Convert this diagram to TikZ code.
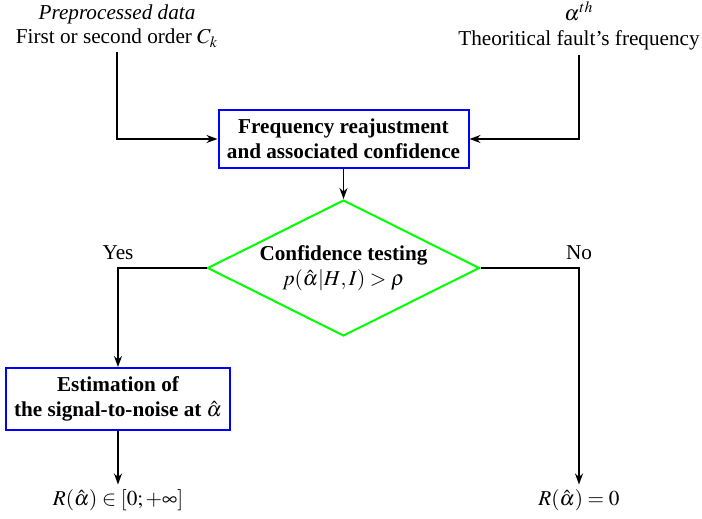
\documentclass[tikz,border=0pt]{standalone}
\usepackage{amsmath, amssymb}
\usepackage{mathptmx}
\usepackage[no-math]{fontspec}
\setmainfont{Liberation Serif}
\usepackage{tikz}
\usetikzlibrary{shapes.geometric, arrows.meta}

\begin{document}
\fontsize{10.6}{12.4}\selectfont
\begin{tikzpicture}[
    x=0.5pt, y=-0.5pt, >={Stealth[length=5.5pt, width=4pt]}, line width=0.9pt,
    proc/.style={rectangle, draw=blue, line width=1pt, align=center, font=\bfseries, inner sep=3pt},
    test/.style={diamond, draw=green, line width=1pt, align=center, inner sep=0pt, shape aspect=2},
    io/.style={align=center, inner sep=2pt}
]
    \useasboundingbox (0,0) rectangle (702,519);

    % inputs
    \node[io] (inData) at (117, 26) {\textit{Preprocessed data}\\First or second order $C_k$};
    \node[io] (inFreq) at (579, 26) {$\alpha^{th}$\\Theoritical fault's frequency};

    % steps
    \node[proc, minimum width=125pt, minimum height=29pt] (freq) at (343.5, 139) {Frequency reajustment\\and associated confidence};
    \node[test, minimum width=136pt, minimum height=68pt] (conf) at (343.5, 268) {\textbf{Confidence testing}\\$p(\hat{\alpha}|H,I) > \rho$};
    \node[proc, minimum width=112pt, minimum height=31pt] (est) at (118, 399) {Estimation of\\the signal-to-noise at $\hat{\alpha}$};

    % outputs
    \node[io] (outEst) at (118, 500) {$R(\hat{\alpha}) \in [0;+\infty]$};
    \node[io] (outNull) at (579, 500) {$R(\hat{\alpha}) = 0$};

    \draw[->] (inData.south) |- (freq.west);
    \draw[->] (inFreq.south) |- (freq.east);
    \draw[->] (freq) -- (conf);
    \draw[->] (conf.west) -| node[pos=0.5, above] {Yes} (est.north);
    \draw[->] (conf.east) -| node[pos=0.5, above] {No} (outNull.north);
    \draw[->] (est) -- (outEst);
\end{tikzpicture}
\end{document}
